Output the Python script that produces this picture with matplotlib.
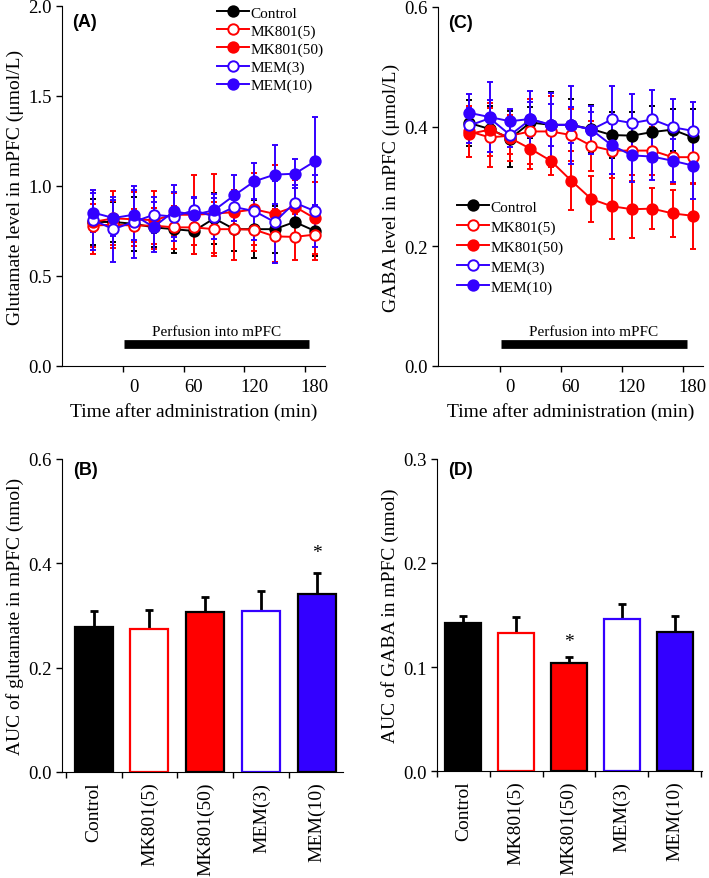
import numpy as np
import matplotlib.pyplot as plt

plt.rcParams['font.family'] = ['Liberation Serif', 'DejaVu Serif']
plt.rcParams['font.size'] = 14
plt.rcParams['xtick.labelsize'] = 13.5
plt.rcParams['ytick.labelsize'] = 13.5

RED = '#ff0000'
BLUE = '#3300ff'

# time points (min)
t = [-40, -20, 0, 20, 40, 60, 80, 100, 120, 140, 160, 180]
groups = ['Control', 'MK801(5)', 'MK801(50)', 'MEM(3)', 'MEM(10)']

# (A) glutamate, umol/L
glu_ctrl = [0.80, 0.80, 0.79, 0.77, 0.76, 0.75, 0.82, 0.76, 0.76, 0.76, 0.80, 0.75]
glu_ctrl_se = [0.13, 0.11, 0.15, 0.11, 0.13, 0.13, 0.14, 0.12, 0.16, 0.13, 0.10, 0.14]
glu_mk5 = [0.78, 0.785, 0.78, 0.78, 0.77, 0.77, 0.76, 0.76, 0.757, 0.72, 0.717, 0.73]
glu_mk5_se = [0.12, 0.13, 0.09, 0.10, 0.12, 0.10, 0.15, 0.17, 0.12, 0.15, 0.13, 0.14]
glu_mk50 = [0.80, 0.82, 0.815, 0.81, 0.84, 0.84, 0.846, 0.855, 0.87, 0.845, 0.885, 0.82]
glu_mk50_se = [0.18, 0.15, 0.15, 0.16, 0.12, 0.22, 0.22, 0.12, 0.20, 0.27, 0.15, 0.20]
glu_mem3 = [0.81, 0.76, 0.80, 0.84, 0.83, 0.865, 0.83, 0.883, 0.86, 0.80, 0.907, 0.86]
glu_mem3_se = [0.165, 0.18, 0.20, 0.10, 0.135, 0.07, 0.124, 0.08, 0.16, 0.23, 0.10, 0.20]
glu_mem10 = [0.852, 0.822, 0.84, 0.772, 0.859, 0.84, 0.865, 0.948, 1.026, 1.063, 1.068, 1.137]
glu_mem10_se = [0.11, 0.10, 0.14, 0.14, 0.144, 0.10, 0.07, 0.115, 0.10, 0.163, 0.08, 0.245]

# (C) GABA, umol/L
gaba_ctrl = [0.406, 0.396, 0.380, 0.407, 0.403, 0.403, 0.396, 0.386, 0.385, 0.391, 0.395, 0.382]
gaba_ctrl_se = [0.039, 0.039, 0.047, 0.026, 0.055, 0.044, 0.040, 0.039, 0.039, 0.043, 0.035, 0.048]
gaba_mk5 = [0.392, 0.382, 0.385, 0.392, 0.392, 0.386, 0.368, 0.360, 0.360, 0.360, 0.349, 0.349]
gaba_mk5_se = [0.043, 0.049, 0.031, 0.055, 0.060, 0.044, 0.042, 0.045, 0.040, 0.040, 0.045, 0.045]
gaba_mk50 = [0.388, 0.395, 0.381, 0.363, 0.343, 0.310, 0.279, 0.267, 0.262, 0.263, 0.255, 0.251]
gaba_mk50_se = [0.038, 0.044, 0.039, 0.033, 0.024, 0.049, 0.038, 0.054, 0.048, 0.034, 0.039, 0.055]
gaba_mem3 = [0.402, 0.414, 0.386, 0.412, 0.403, 0.403, 0.395, 0.412, 0.406, 0.412, 0.399, 0.393]
gaba_mem3_se = [0.030, 0.030, 0.020, 0.030, 0.035, 0.030, 0.030, 0.056, 0.049, 0.050, 0.048, 0.048]
gaba_mem10 = [0.423, 0.416, 0.409, 0.413, 0.403, 0.403, 0.395, 0.369, 0.352, 0.350, 0.343, 0.335]
gaba_mem10_se = [0.032, 0.059, 0.020, 0.046, 0.054, 0.065, 0.040, 0.048, 0.045, 0.039, 0.036, 0.056]

# (B) AUC glutamate, (D) AUC GABA (nmol)
auc_glu = [0.278, 0.274, 0.306, 0.308, 0.341]
auc_glu_se = [0.030, 0.037, 0.029, 0.039, 0.041]
auc_gaba = [0.142, 0.133, 0.104, 0.146, 0.134]
auc_gaba_se = [0.007, 0.015, 0.006, 0.015, 0.015]

styles = [('black', 'black'), (RED, 'white'), (RED, RED), (BLUE, 'white'), (BLUE, BLUE)]
serif = 'Liberation Serif'


def time_axes(ax, series, ymax, ystep, ylabel, tag, leg_anchor, leg_space):
    handles = []
    for (m, se), name, (c, fc) in zip(series, groups, styles):
        cont = ax.errorbar(t, m, yerr=se, color=c, marker='o', ms=7.5, mfc=fc, mec=c,
                           mew=1.4, lw=1.4, elinewidth=1.4, capsize=2.5, capthick=1.4,
                           label=name)
        handles.append(cont.lines[0])
    ax.set_xlim(-71, 190)
    ax.set_ylim(0, ymax)
    ax.set_yticks(np.arange(0, ymax + 1e-9, ystep))
    ax.yaxis.set_major_formatter(plt.FormatStrFormatter('%.1f'))
    ax.set_xticks([-10, 50, 110, 170])
    ax.set_xticklabels([])
    ax.set_xticks([0, 60, 120, 180], minor=True)
    ax.set_xticklabels(['0', '60', '120', '180'], minor=True)
    ax.tick_params(axis='x', which='minor', length=0, pad=8.5)
    ax.tick_params(which='major', direction='out', length=4, width=1)
    ax.set_xlabel('Time after administration (min)', labelpad=5)
    ax.set_ylabel(ylabel, labelpad=3)
    for s in ['top', 'right']:
        ax.spines[s].set_visible(False)
    # perfusion bar
    ax.plot([-9, 174], [ymax * 0.06] * 2, color='black', lw=6.3,
            solid_capstyle='butt')
    ax.text(82, ymax * 0.077, 'Perfusion into mPFC', ha='center', va='bottom',
            fontsize=11)
    ax.text(0.04, 0.957, tag, transform=ax.transAxes, family='Liberation Sans',
            fontweight='bold', fontsize=13, va='center')
    ax.legend(handles, groups, loc='upper left', bbox_to_anchor=leg_anchor,
              frameon=False, handlelength=2.1, handletextpad=0.1,
              labelspacing=leg_space, borderaxespad=0, borderpad=0,
              prop={'family': serif, 'size': 11})


def bar_axes(ax, vals, errs, ymax, ystep, ylabel, tag, star_idx, star_y, xlim):
    x = np.arange(len(groups))
    for i, (v, e, (c, fc)) in enumerate(zip(vals, errs, styles)):
        ec = 'black' if fc != 'white' else c
        ax.bar(i, v, width=0.68, color=fc, edgecolor=ec, linewidth=1.6, zorder=2)
        ax.errorbar(i, v, yerr=[[0], [e]], color='black', elinewidth=2,
                    capsize=3, capthick=2, zorder=1)
    ax.text(star_idx, star_y, '*', ha='center', va='center', fontsize=14)
    ax.set_xlim(*xlim)
    ax.set_ylim(0, ymax)
    ax.set_yticks(np.arange(0, ymax + 1e-9, ystep))
    ax.yaxis.set_major_formatter(plt.FormatStrFormatter('%.1f'))
    ax.set_xticks(np.arange(-0.5, xlim[1], 1.0))
    ax.set_xticklabels([])
    ax.set_xticks(x, minor=True)
    ax.set_xticklabels(groups, minor=True, rotation=90, fontsize=14)
    ax.tick_params(axis='x', which='minor', length=0, pad=7)
    ax.tick_params(which='major', direction='out', length=4, width=1)
    ax.set_ylabel(ylabel, labelpad=3)
    for s in ['top', 'right']:
        ax.spines[s].set_visible(False)
    ax.text(0.04, 0.965, tag, transform=ax.transAxes, family='Liberation Sans',
            fontweight='bold', fontsize=13, va='center')


fig = plt.figure(figsize=(7.09, 8.79), dpi=100)
axA = fig.add_axes([0.0874, 0.5825, 0.371, 0.4096])
axC = fig.add_axes([0.6178, 0.5825, 0.3738, 0.4084])
axB = fig.add_axes([0.0874, 0.1206, 0.3963, 0.3561])
axD = fig.add_axes([0.6164, 0.1217, 0.3738, 0.355])

time_axes(axA, [(glu_ctrl, glu_ctrl_se), (glu_mk5, glu_mk5_se), (glu_mk50, glu_mk50_se),
                (glu_mem3, glu_mem3_se), (glu_mem10, glu_mem10_se)],
          2.0, 0.5, 'Glutamate level in mPFC (\u03bcmol/L)', '(A)', (0.59, 1.0), 0.28)
time_axes(axC, [(gaba_ctrl, gaba_ctrl_se), (gaba_mk5, gaba_mk5_se), (gaba_mk50, gaba_mk50_se),
                (gaba_mem3, gaba_mem3_se), (gaba_mem10, gaba_mem10_se)],
          0.6, 0.2, 'GABA level in mPFC (\u03bcmol/L)', '(C)', (0.07, 0.462), 0.4)
bar_axes(axB, auc_glu, auc_glu_se, 0.6, 0.2, 'AUC of glutamate in mPFC (nmol)', '(B)',
         4, 0.42, (-0.565, 4.46))
bar_axes(axD, auc_gaba, auc_gaba_se, 0.3, 0.1, 'AUC of GABA in mPFC (nmol)', '(D)',
         2, 0.125, (-0.5, 4.52))

fig.savefig('out.png', dpi=100)
